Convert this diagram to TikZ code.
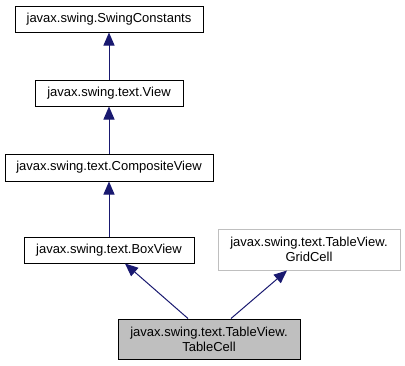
\documentclass[tikz,border=0pt]{standalone}
\usepackage{fontspec}
\setmainfont{Liberation Sans}
\usetikzlibrary{arrows.meta}

\definecolor{edgeblue}{HTML}{191970}
\definecolor{cellgray}{HTML}{BFBFBF}

\begin{document}
\begin{tikzpicture}[x=1pt, y=-1pt, line width=1pt,
    font=\fontsize{13}{15}\selectfont,
    cls/.style={rectangle, draw=black, fill=white, align=center, inner sep=0pt},
    >={Triangle[length=13pt, width=11pt]}]
  \useasboundingbox (0,0) rectangle (405,365);

  \node[cls, minimum width=188pt, minimum height=26pt] (constants) at (109,19) {javax.swing.SwingConstants};
  \node[cls, minimum width=148pt, minimum height=26pt] (view) at (109,93) {javax.swing.text.View};
  \node[cls, minimum width=208pt, minimum height=27pt] (composite) at (109,167.5) {javax.swing.text.CompositeView};
  \node[cls, minimum width=170pt, minimum height=26pt] (boxview) at (109,250) {javax.swing.text.BoxView};
  \node[cls, draw=cellgray, minimum width=182pt, minimum height=41pt] (gridcell) at (309,249.5) {javax.swing.text.TableView.\\GridCell};
  \node[cls, fill=cellgray, minimum width=182pt, minimum height=40pt] (tablecell) at (209,339) {javax.swing.text.TableView.\\TableCell};

  % inheritance edges point at the parent class
  \draw[->, edgeblue] (view) -- (constants);
  \draw[->, edgeblue] (composite) -- (view);
  \draw[->, edgeblue] (boxview) -- (composite);
  \draw[->, edgeblue] ([xshift=-21pt]tablecell.north) -- ([xshift=16pt]boxview.south);
  \draw[->, edgeblue] ([xshift=22pt]tablecell.north) -- ([xshift=-22pt]gridcell.south);
\end{tikzpicture}
\end{document}
